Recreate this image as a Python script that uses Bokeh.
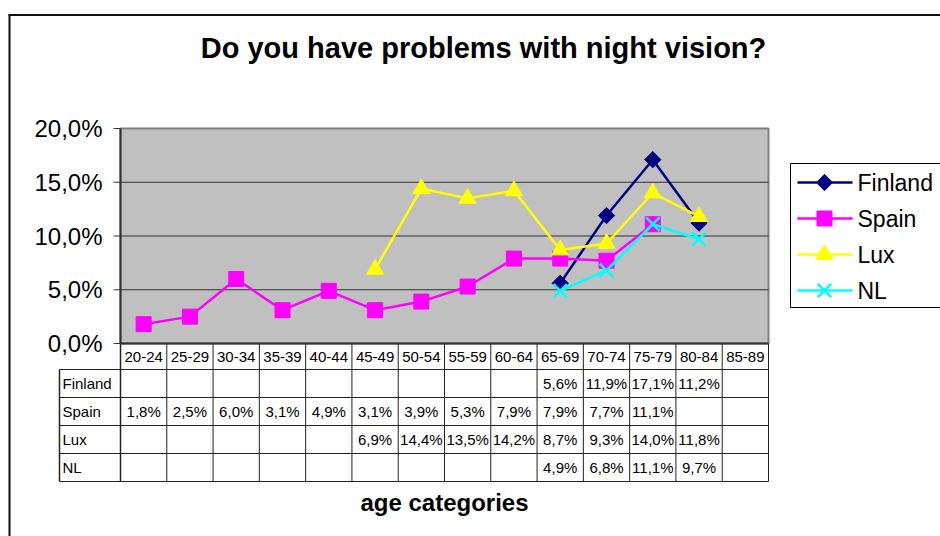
import math
from bokeh.plotting import figure
from bokeh.models import Range1d, ColumnDataSource
from bokeh.core.properties import value
from bokeh.embed import file_html
from bokeh.resources import INLINE

# ---------------- data ----------------
categories = ["20-24", "25-29", "30-34", "35-39", "40-44", "45-49", "50-54",
              "55-59", "60-64", "65-69", "70-74", "75-79", "80-84", "85-89"]
finland = [None, None, None, None, None, None, None, None, None, 5.6, 11.9, 17.1, 11.2, None]
spain = [1.8, 2.5, 6.0, 3.1, 4.9, 3.1, 3.9, 5.3, 7.9, 7.9, 7.7, 11.1, None, None]
lux = [None, None, None, None, None, 6.9, 14.4, 13.5, 14.2, 8.7, 9.3, 14.0, 11.8, None]
nl = [None, None, None, None, None, None, None, None, None, 4.9, 6.8, 11.1, 9.7, None]
series_names = ["Finland", "Spain", "Lux", "NL"]
y_ticks = [0, 5, 10, 15, 20]
y_tick_labels = ["0,0%", "5,0%", "10,0%", "15,0%", "20,0%"]
title_text = "Do you have problems with night vision?"
x_title = "age categories"

# ---------------- styles / layout ----------------
FONT = "Liberation Sans"
colors = ["#000080", "#FF00FF", "#FFFF00", "#00FFFF"]
markers = ["square", "square", "triangle", "x"]
angles = [math.pi / 4, 0, 0, 0]
sizes = [11.5, 15, 17, 19]
LINE = "#222222"

W, H = 940, 536
N = len(categories)
Y_MAX = y_ticks[-1]
PLOT_L, PLOT_R, PLOT_T, PLOT_B = 120, 768, 128, 343
PXU = (PLOT_R - PLOT_L) / N            # pixels per category
PYU = (PLOT_B - PLOT_T) / Y_MAX        # pixels per percent


def X(px):
    return (px - PLOT_L) / PXU


def Y(py):
    return (PLOT_B - py) / PYU


p = figure(width=W, height=H, output_backend="svg", toolbar_location=None,
           x_range=Range1d(X(0), X(W)), y_range=Range1d(Y(H), Y(0)),
           x_axis_location=None, y_axis_location=None,
           min_border=0, background_fill_color="white",
           border_fill_color="white")
p.outline_line_color = None
p.grid.visible = False

# outer chart frame (cut by the window)
p.segment(x0=[X(9), X(8)], x1=[X(9), X(W + 10)], y0=[Y(14), Y(14.5)],
          y1=[Y(H + 10), Y(14.5)], line_color="#111111", line_width=2)

# title
p.text(x=[X(483)], y=[Y(47)], text=[title_text], text_align="center",
       text_baseline="middle", text_font=value(FONT), text_font_style="bold",
       text_font_size="29px", text_color="black")

# plot area
p.quad(left=[0], right=[N], bottom=[0], top=[Y_MAX], fill_color="#C0C0C0",
       line_color="#808080", line_width=2)
# gridlines
inner = [t for t in y_ticks if 0 < t < Y_MAX]
p.segment(x0=[0] * len(inner), x1=[N] * len(inner), y0=inner, y1=inner,
          line_color="#303030", line_width=1)
# axis lines
p.segment(x0=[0, 0], x1=[0, N], y0=[0, 0], y1=[Y_MAX, 0],
          line_color="#333333", line_width=2)
# ticks and tick labels
p.segment(x0=[X(113)] * len(y_ticks), x1=[0] * len(y_ticks), y0=y_ticks,
          y1=y_ticks, line_color="#333333", line_width=1)
p.text(x=[X(102)] * len(y_ticks), y=y_ticks, text=y_tick_labels,
       text_align="right", text_baseline="middle", text_font=value(FONT),
       text_font_size="24px", text_color="black")

# ---------------- table ----------------
row_lines = [369, 397, 425, 453, 481]
row_centers = [383, 411, 439, 467]
p.segment(x0=[X(59)] * len(row_lines), x1=[N] * len(row_lines),
          y0=[Y(r) for r in row_lines], y1=[Y(r) for r in row_lines],
          line_color=LINE, line_width=1)
p.segment(x0=list(range(1, N + 1)), x1=list(range(1, N + 1)),
          y0=[Y(PLOT_B)] * N, y1=[Y(481)] * N, line_color=LINE, line_width=1)
p.segment(x0=[0, X(59)], x1=[0, X(59)], y0=[0, Y(369)], y1=[Y(481), Y(481)],
          line_color=LINE, line_width=1.5)

xc = [i + 0.5 for i in range(N)]
p.text(x=xc, y=[Y(356)] * N, text=categories, text_align="center",
       text_baseline="middle", text_font=value(FONT), text_font_size="15px",
       text_color="black")
p.text(x=[X(62)] * len(series_names), y=[Y(r) for r in row_centers],
       text=series_names, text_align="left", text_baseline="middle",
       text_font=value(FONT), text_font_size="15px", text_color="black")

all_series = [finland, spain, lux, nl]
tx, ty, tt = [], [], []
for vals, rc in zip(all_series, row_centers):
    for i, v in enumerate(vals):
        if v is not None:
            tx.append(i + 0.5)
            ty.append(Y(rc))
            tt.append(("%.1f" % v).replace(".", ",") + "%")
p.text(x=tx, y=ty, text=tt, text_align="center", text_baseline="middle",
       text_font=value(FONT), text_font_size="15px", text_color="black")

# axis title
p.text(x=[X(444)], y=[Y(502)], text=[x_title], text_align="center",
       text_baseline="middle", text_font=value(FONT), text_font_style="bold",
       text_font_size="24px", text_color="black")


def draw_marker(src, m, s, a, c):
    if m == "x":
        return p.scatter("x", "y", source=src, marker=m, size=s, line_color=c,
                         line_width=2.5)
    return p.scatter("x", "y", source=src, marker=m, size=s, angle=a,
                     fill_color=c, line_color=c, line_width=1)


# ---------------- series ----------------
for name, vals, c, m, a, s in zip(series_names, all_series, colors, markers, angles, sizes):
    yv = [float("nan") if v is None else v for v in vals]
    src = ColumnDataSource(dict(x=xc, y=yv))
    p.line("x", "y", source=src, line_color=c, line_width=2.5)
    draw_marker(src, m, s, a, c)

# ---------------- legend ----------------
leg_rows = [182, 218, 254, 290]
p.quad(left=[X(790)], right=[X(W + 10)], top=[Y(163)], bottom=[Y(307)],
       fill_color="white", line_color="black", line_width=1)
for name, c, m, a, s, ry in zip(series_names, colors, markers, angles, sizes, leg_rows):
    p.segment(x0=[X(797)], x1=[X(852)], y0=[Y(ry)], y1=[Y(ry)], line_color=c,
              line_width=2.5)
    draw_marker(ColumnDataSource(dict(x=[X(824)], y=[Y(ry)])), m, s, a, c)
    p.text(x=[X(857)], y=[Y(ry)], text=[name], text_align="left",
           text_baseline="middle", text_font=value(FONT),
           text_font_size="23px", text_color="black")

open("out.html", "w").write(file_html(p, INLINE))
